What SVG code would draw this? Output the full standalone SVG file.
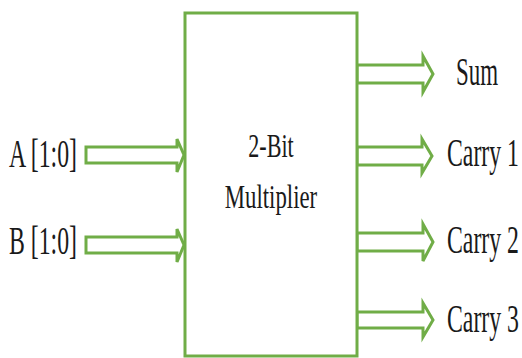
<svg xmlns="http://www.w3.org/2000/svg" width="522" height="358" viewBox="0 0 522 358">
  <style>
    .box { fill: #ffffff; stroke: #70ad47; stroke-width: 3; }
    .arrow { fill: #ffffff; stroke: #70ad47; stroke-width: 3; stroke-linejoin: miter; }
    text { font-family: "Liberation Serif", "Times New Roman", Times, serif; fill: #1a1a1a; }
    .lbl { font-size: 41px; }
    .core { font-size: 33px; text-anchor: middle; }
  </style>
  <rect width="522" height="358" fill="#ffffff"/>

  <!-- block arrows (inputs and outputs) -->
  <g id="connectors">
    <polygon class="arrow" points="86,147 177,147 177,139 184,155 177,172 177,163 86,163"/>
    <polygon class="arrow" points="86,237 177,237 177,229 184,245 177,262 177,253 86,253"/>
    <polygon class="arrow" points="357,65 423,65 423,56 433,74 423,92 423,83 357,83"/>
    <polygon class="arrow" points="357,147 422,147 422,139 432,156 422,173 422,165 357,165"/>
    <polygon class="arrow" points="357,233 423,233 423,224 433,242 423,261 423,251 357,251"/>
    <polygon class="arrow" points="357,312 423,312 423,303 433,320 423,337 423,328 357,328"/>
  </g>

  <g id="multiplier">
    <rect class="box" x="185" y="13" width="172" height="343"/>
    <text class="core" transform="translate(271,157) scale(0.67,1)">2-Bit</text>
    <text class="core" transform="translate(271,208) scale(0.69,1)">Multiplier</text>
  </g>

  <g id="input-a">
    <text class="lbl" transform="translate(9,167) scale(0.58,1)">A [1:0]</text>
  </g>
  <g id="input-b">
    <text class="lbl" transform="translate(9,254) scale(0.58,1)">B [1:0]</text>
  </g>
  <g id="out-sum">
    <text class="lbl" transform="translate(456,85) scale(0.56,1)">Sum</text>
  </g>
  <g id="out-carry1">
    <text class="lbl" transform="translate(447,166) scale(0.58,1)">Carry 1</text>
  </g>
  <g id="out-carry2">
    <text class="lbl" transform="translate(447,253) scale(0.58,1)">Carry 2</text>
  </g>
  <g id="out-carry3">
    <text class="lbl" transform="translate(447,332) scale(0.58,1)">Carry 3</text>
  </g>
</svg>
